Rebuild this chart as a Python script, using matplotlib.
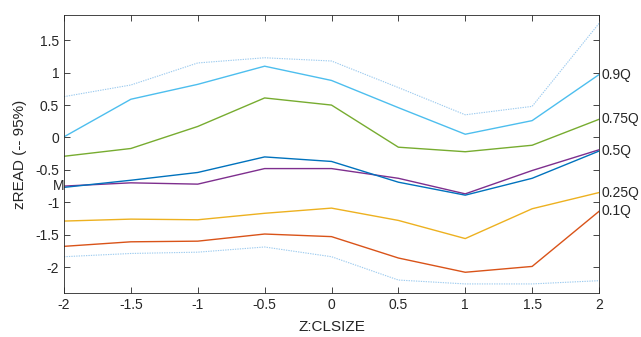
import matplotlib
matplotlib.use("Agg")
import matplotlib.pyplot as plt

plt.rcParams['font.family'] = ['Liberation Sans', 'DejaVu Sans']

x = [-2, -1.5, -1, -0.5, 0, 0.5, 1, 1.5, 2]
upper_ci = [0.63, 0.81, 1.15, 1.23, 1.18, 0.77, 0.35, 0.48, 1.76]
q90 = [0.01, 0.59, 0.82, 1.10, 0.88, 0.46, 0.05, 0.26, 0.97]
q75 = [-0.29, -0.17, 0.17, 0.61, 0.50, -0.15, -0.22, -0.12, 0.28]
q50 = [-0.77, -0.66, -0.54, -0.30, -0.37, -0.69, -0.89, -0.63, -0.21]
mean = [-0.75, -0.70, -0.72, -0.48, -0.48, -0.63, -0.87, -0.51, -0.19]
q25 = [-1.29, -1.26, -1.27, -1.17, -1.09, -1.28, -1.56, -1.10, -0.85]
q10 = [-1.68, -1.61, -1.60, -1.49, -1.53, -1.86, -2.08, -1.99, -1.14]
lower_ci = [-1.84, -1.79, -1.77, -1.69, -1.84, -2.20, -2.26, -2.26, -2.21]

q_labels = ['0.9Q', '0.75Q', '0.5Q', '0.25Q', '0.1Q']
mean_label = 'M'
xticks = [-2, -1.5, -1, -0.5, 0, 0.5, 1, 1.5, 2]
xtick_labels = ['-2', '-1.5', '-1', '-0.5', '0', '0.5', '1', '1.5', '2']
yticks = [-2, -1.5, -1, -0.5, 0, 0.5, 1, 1.5]
ytick_labels = ['-2', '-1.5', '-1', '-0.5', '0', '0.5', '1', '1.5']

fig = plt.figure(figsize=(6.41, 3.37), dpi=100)
ax = fig.add_axes([64/641, 1-293/337, (599-64)/641, (293-15)/337])

tc = '#262626'
ci_color = '#9DCBEF'
ax.plot(x, upper_ci, color=ci_color, lw=0.8, ls=(0, (1.2, 1.0)))
ax.plot(x, lower_ci, color=ci_color, lw=0.8, ls=(0, (1.2, 1.0)))
series = [q90, q75, q50, q25, q10]
colors = ['#4DBEEE', '#77AC30', '#0072BD', '#EDB120', '#D95319']
ax.plot(x, mean, color='#7E2F8E', lw=1.0)
for s, c in zip(series, colors):
    ax.plot(x, s, color=c, lw=1.0)

for s, lab in zip(series, q_labels):
    ax.text(x[-1] + 0.015, s[-1], lab, ha='left', va='center', fontsize=10, color=tc, clip_on=False)
ax.text(x[0], mean[0], mean_label, ha='right', va='center', fontsize=10, color=tc, clip_on=False)

ax.set_xlim(-2, 2)
ax.set_ylim(-2.4, 1.89)
ax.set_xticks(xticks)
ax.set_xticklabels(xtick_labels)
ax.set_yticks(yticks)
ax.set_yticklabels(ytick_labels)
ax.tick_params(direction='in', length=4, width=0.6, colors=tc, labelsize=10,
               top=True, right=True, labelright=False, labeltop=False)
for sp in ax.spines.values():
    sp.set_color(tc)
    sp.set_linewidth(0.6)
ax.set_xlabel('Z:CLSIZE', fontsize=11, color=tc, labelpad=6)
ax.set_ylabel('zREAD (-- 95%)', fontsize=11, color=tc, labelpad=6)

fig.savefig('out.png', dpi=100)
